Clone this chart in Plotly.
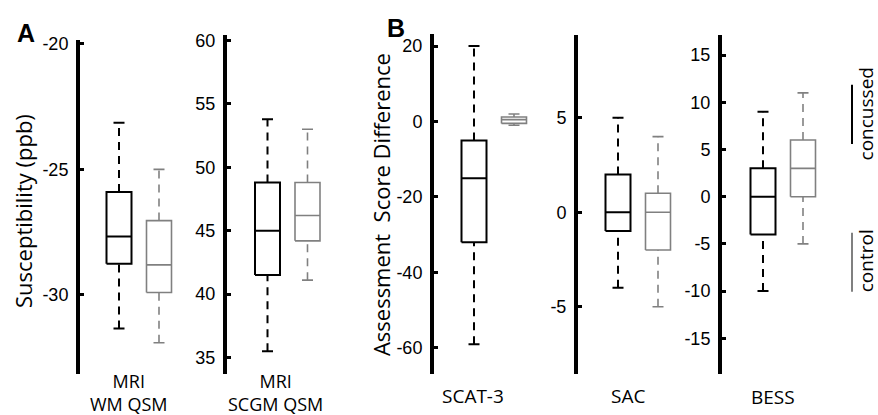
import plotly.graph_objects as go

W, H = 878, 415

# ---------------- data (five-number summaries) -------------
panels = ["WM QSM", "SCGM QSM", "SCAT-3", "SAC", "BESS"]
groups = ["concussed", "control"]

# [lower whisker, Q1, median, Q3, upper whisker]
wm_concussed = [-31.33, -28.76, -27.67, -25.9, -23.14]
wm_control = [-31.9, -29.9, -28.8, -27.04, -25.0]
scgm_concussed = [35.5, 41.5, 45.0, 48.8, 53.8]
scgm_control = [41.1, 44.2, 46.2, 48.8, 53.0]
scat_concussed = [-59, -32, -15, -5, 20]
scat_control = [-1, -0.5, 0.5, 1.2, 2]
sac_concussed = [-4, -1, 0, 2, 5]
sac_control = [-5, -2, 0, 1, 4]
bess_concussed = [-10, -4, 0, 3, 9]
bess_control = [-5, 0, 3, 6, 11]

wm_ticks = [-30, -25, -20]
scgm_ticks = [35, 40, 45, 50, 55, 60]
scat_ticks = [-60, -40, -20, 0, 20]
sac_ticks = [-5, 0, 5]
bess_ticks = [-15, -10, -5, 0, 5, 10, 15]

# ---------------- layout geometry (pixels) ----------------
geo = [
    dict(ax=80, c1=119, right=195, top=35, bot=373, yr=[-33.13, -19.87], ticks=wm_ticks,
         data=[wm_concussed, wm_control]),
    dict(ax=227, c1=267.5, right=345, top=29, bot=373, yr=[33.73, 60.47], ticks=scgm_ticks,
         data=[scgm_concussed, scgm_control]),
    dict(ax=434, c1=474, right=545, top=28, bot=373, yr=[-66.8, 23.3], ticks=scat_ticks,
         data=[scat_concussed, scat_control]),
    dict(ax=578, c1=618, right=690, top=29, bot=373, yr=[-8.54, 9.4], ticks=sac_ticks,
         data=[sac_concussed, sac_control]),
    dict(ax=722, c1=763, right=835, top=29, bot=373, yr=[-18.74, 17.17], ticks=bess_ticks,
         data=[bess_concussed, bess_control]),
]
SPACING = 40.0
HALF = 12.5 / SPACING
CAP = 5.5 / SPACING
colors = ["#000000", "#808080"]
widths = [2.0, 1.6]

TICKFONT = dict(family="Liberation Sans, Arial, sans-serif", size=18, color="black")
LABFONT = "Open Sans, sans-serif"

fig = go.Figure()
layout = dict(
    width=W, height=H, margin=dict(l=0, r=0, t=0, b=0),
    paper_bgcolor="white", plot_bgcolor="white", showlegend=False,
)

for i, g in enumerate(geo):
    n = "" if i == 0 else str(i + 1)
    xa, ya = "x" + n, "y" + n
    x0 = 1 - (g["c1"] - g["ax"]) / SPACING
    x1 = 1 + (g["right"] - g["c1"]) / SPACING
    layout["xaxis" + n] = dict(domain=[g["ax"] / W, g["right"] / W], range=[x0, x1],
                               visible=False, anchor=ya)
    layout["yaxis" + n] = dict(domain=[1 - g["bot"] / H, 1 - g["top"] / H], range=g["yr"],
                               anchor=xa, showline=True, linewidth=4, linecolor="black",
                               ticks="inside", ticklen=4, tickwidth=3, tickcolor="black",
                               tickvals=g["ticks"], ticktext=[str(v) for v in g["ticks"]],
                               showgrid=False, zeroline=False,
                               tickfont=TICKFONT, ticklabelstandoff=4)
    for j, vals in enumerate(g["data"]):
        lo, q1, med, q3, hi = vals
        c = j + 1
        xs = [c - HALF, c + HALF, c + HALF, c - HALF, c - HALF, None,
              c - HALF, c + HALF, None,
              c - CAP, c + CAP, None,
              c - CAP, c + CAP]
        ys = [q1, q1, q3, q3, q1, None,
              med, med, None,
              hi, hi, None,
              lo, lo]
        fig.add_trace(go.Scatter(x=xs, y=ys, xaxis=xa, yaxis=ya, mode="lines",
                                 line=dict(color=colors[j], width=widths[j]),
                                 hoverinfo="skip", name=groups[j]))
        fig.add_trace(go.Scatter(x=[c, c, None, c, c], y=[q3, hi, None, lo, q1],
                                 xaxis=xa, yaxis=ya, mode="lines",
                                 line=dict(color=colors[j], width=widths[j], dash="8px,6px"),
                                 hoverinfo="skip", name=groups[j]))

fig.update_layout(**layout)

ann = []
def A(text, x, y, size=20, angle=0, bold=False, family=LABFONT, xref="paper", color="black"):
    ann.append(dict(text=("<b>%s</b>" % text) if bold else text, x=x, y=y,
                    xref=xref, yref="paper", showarrow=False, textangle=angle,
                    font=dict(family=family, size=size, color=color),
                    xanchor="center", yanchor="middle", borderpad=0))

# category labels
A("MRI<br>WM QSM", 1.25, 1 - 392 / H, size=18, xref="x")
A("MRI<br>SCGM QSM", 1.21, 1 - 392 / H, size=18, xref="x2")
A("SCAT-3", 0.98, 1 - 396 / H, size=19, xref="x3")
A("SAC", 1.25, 1 - 396 / H, size=19, xref="x4")
A("BESS", 1.25, 1 - 397 / H, size=19, xref="x5")

# axis titles
A("Susceptibility (ppb)", 23 / W, 1 - 208 / H, size=22, angle=-90)
A("Assessment\u00a0\u00a0Score Difference", 381 / W, 1 - 202 / H, size=22, angle=-90)

# panel letters
A("A", 26 / W, 1 - 27 / H, size=25, bold=True, family="Liberation Sans, Arial, sans-serif")
A("B", 396 / W, 1 - 22 / H, size=25, bold=True, family="Liberation Sans, Arial, sans-serif")

# legend
A("concussed", 866 / W, 1 - 110 / H, size=19, angle=-90)
A("control", 866 / W, 1 - 259 / H, size=19, angle=-90)
shapes = [
    dict(type="line", xref="paper", yref="paper", x0=852 / W, x1=852 / W,
         y0=1 - 80 / H, y1=1 - 140 / H, line=dict(color="black", width=2)),
    dict(type="line", xref="paper", yref="paper", x0=852 / W, x1=852 / W,
         y0=1 - 230 / H, y1=1 - 290 / H, line=dict(color="#808080", width=2)),
]
fig.update_layout(annotations=ann, shapes=shapes)

fig.write_html("out.html", config={"displayModeBar": False},
               post_script="document.body.style.margin='0px';document.body.style.overflow='hidden';")
